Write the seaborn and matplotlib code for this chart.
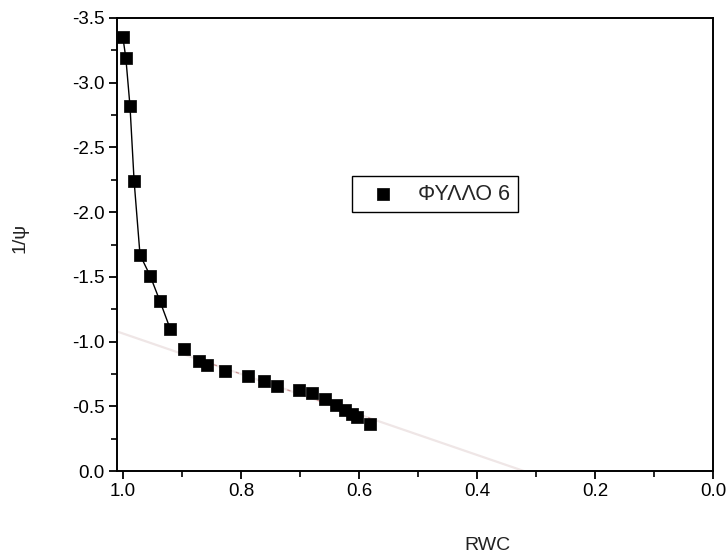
import numpy as np
import pandas as pd
import seaborn as sns
import matplotlib
matplotlib.use("Agg")
import matplotlib.pyplot as plt
from matplotlib.ticker import MultipleLocator

# Data
RWC = [1.000, 0.995, 0.988, 0.981, 0.971, 0.954, 0.937, 0.920, 0.897,
       0.871, 0.858, 0.827, 0.788, 0.761, 0.739, 0.702, 0.680, 0.658,
       0.639, 0.624, 0.612, 0.603, 0.581]
INV_PSI = [-3.35, -3.19, -2.82, -2.24, -1.67, -1.51, -1.31, -1.10, -0.945,
           -0.85, -0.82, -0.775, -0.736, -0.697, -0.658, -0.627, -0.604, -0.558,
           -0.511, -0.472, -0.44, -0.418, -0.364]
N_CURVE = 8          # first points joined by the black line
LINEAR_FROM = 9      # points used for the straight-line fit
LABEL = "ΦΥΛΛΟ 6"

sns.set_theme(style="ticks")
plt.rcParams['font.family'] = ['Liberation Sans', 'DejaVu Sans']

df = pd.DataFrame({"RWC": RWC, "inv_psi": INV_PSI})

fig = plt.figure(figsize=(7.28, 5.59), dpi=100)
ax = fig.add_axes([117 / 728, 1 - 471 / 559, 596 / 728, 453 / 559])

# faint regression line through the linear part, extended to y = 0
lin = df.iloc[LINEAR_FROM:]
slope, icpt = np.polyfit(lin["RWC"], lin["inv_psi"], 1)
x0 = -icpt / slope
fx = np.linspace(1.01, x0, 50)
ax.plot(fx, slope * fx + icpt, color="#efe6e6", lw=1.6, zorder=1)
fx2 = np.linspace(lin["RWC"].max(), lin["RWC"].min(), 20)
ax.plot(fx2, slope * fx2 + icpt, color="#c98f8f", lw=0.8, ls=(0, (3, 4)), zorder=1)

# black curve through the steep part
sns.lineplot(data=df.iloc[:N_CURVE], x="RWC", y="inv_psi", sort=False,
             color="black", lw=1.0, ax=ax, legend=False, zorder=2)
sns.scatterplot(data=df, x="RWC", y="inv_psi", marker="s", s=70,
                color="black", edgecolor="black", linewidth=0.5,
                label=LABEL, ax=ax, zorder=3)

ax.set_xlim(1.01, 0.0)
ax.set_ylim(0.0, -3.5)
ax.xaxis.set_major_locator(MultipleLocator(0.2))
ax.xaxis.set_minor_locator(MultipleLocator(0.1))
ax.yaxis.set_major_locator(MultipleLocator(0.5))
ax.yaxis.set_minor_locator(MultipleLocator(0.25))
ax.xaxis.set_major_formatter(matplotlib.ticker.FormatStrFormatter("%.1f"))
ax.yaxis.set_major_formatter(matplotlib.ticker.FuncFormatter(lambda v, p: f"{v:.1f}"))

for s in ax.spines.values():
    s.set_visible(True)
    s.set_linewidth(1.4)
    s.set_color("black")
ax.tick_params(which="major", direction="out", length=6, width=1.3,
               labelsize=13.5, colors="black", pad=3)
ax.tick_params(which="minor", direction="out", length=4, width=1.2, colors="black")
ax.tick_params(axis="x", which="both", top=False)
ax.tick_params(axis="y", which="both", right=False)

ax.set_xlabel("RWC", fontsize=14, color="#222222")
ax.set_ylabel("1/ψ", fontsize=14, color="#222222")
ax.xaxis.set_label_coords((487 - 117) / 596, -0.145)
ax.yaxis.set_label_coords(-0.148, 0.514)

leg = ax.legend(loc="center", bbox_to_anchor=((435 - 117) / 596, (471 - 194) / 453),
                fontsize=15.5, frameon=True, fancybox=False, shadow=False,
                handlelength=2.1, handletextpad=0.6, borderpad=0.35,
                markerscale=1.0, scatterpoints=1)
leg.get_frame().set_edgecolor("black")
leg.get_frame().set_linewidth(1.0)
leg.get_frame().set_facecolor("white")
leg.get_frame().set_alpha(1.0)

fig.savefig("out.png", dpi=100)
